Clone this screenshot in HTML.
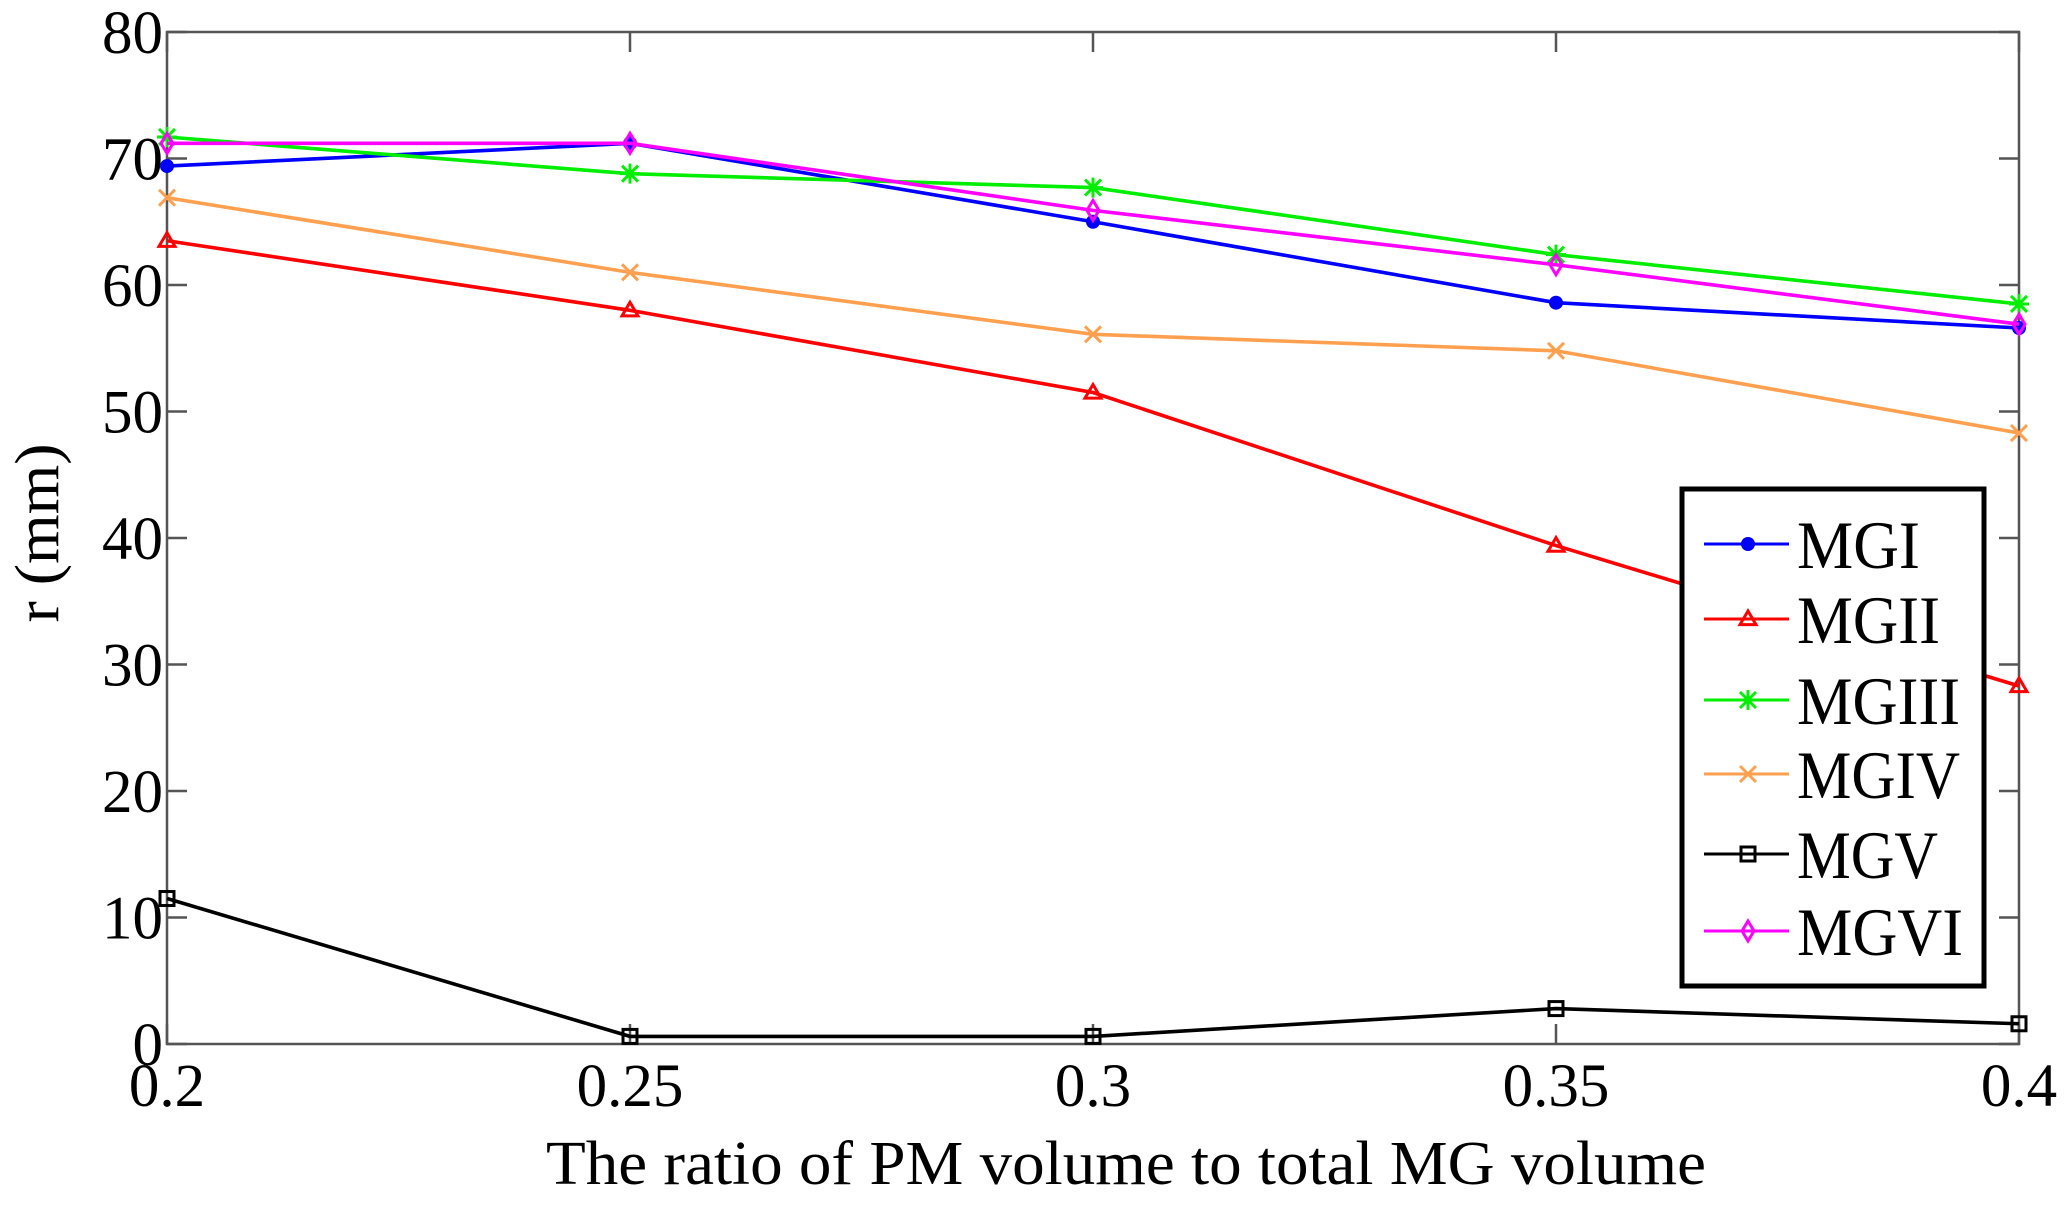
<!DOCTYPE html>
<html><head><meta charset="utf-8"><style>
html,body{margin:0;padding:0;background:#fff;}
svg{display:block;font-family:"Liberation Serif",serif;}
</style></head><body>
<svg id="chart" width="2069" height="1218" viewBox="0 0 2069 1218" xmlns="http://www.w3.org/2000/svg">
<g id="axes"></g>
<g id="series"></g>
<g id="legend"></g>
<text x="546" y="1184" font-size="62" textLength="1160" lengthAdjust="spacingAndGlyphs" fill="#000">The ratio of PM volume to total MG volume</text>
<text transform="translate(58,533) rotate(-90)" font-size="62" text-anchor="middle" textLength="179" lengthAdjust="spacingAndGlyphs" fill="#000">r (mm)</text>
</svg>
<script>
const xCategories = [0.2, 0.25, 0.3, 0.35, 0.4];
const xTickLabels = ["0.2", "0.25", "0.3", "0.35", "0.4"];
const yTicks = [0, 10, 20, 30, 40, 50, 60, 70, 80];
const seriesNames = ["MGI", "MGII", "MGIII", "MGIV", "MGV", "MGVI"];
const mgI = [69.4, 71.2, 65.0, 58.6, 56.6];
const mgII = [63.5, 58.0, 51.5, 39.4, 28.3];
const mgIII = [71.7, 68.8, 67.7, 62.4, 58.5];
const mgIV = [66.9, 61.0, 56.1, 54.8, 48.3];
const mgV = [11.5, 0.6, 0.6, 2.8, 1.6];
const mgVI = [71.2, 71.2, 65.9, 61.6, 56.9];

const NS = "http://www.w3.org/2000/svg";
const L = 167, R = 2019, T = 32, B = 1044;
const xMin = 0.2, xMax = 0.4, yMin = 0, yMax = 80;
function xs(v){ return L + (v - xMin) / (xMax - xMin) * (R - L); }
function ys(v){ return B - (v - yMin) / (yMax - yMin) * (B - T); }
function mk(tag, attrs, parent){ const e = document.createElementNS(NS, tag); for (const k in attrs) e.setAttribute(k, attrs[k]); parent.appendChild(e); return e; }

const axes = document.getElementById('axes');
const box = mk('rect', {x:L, y:T, width:R-L, height:B-T, fill:'none', stroke:'#555', 'stroke-width':2.5}, axes);


yTicks.forEach(v => {
  const y = ys(v);
  const t1 = mk('line', {x1:L, x2:L+20, y1:y, y2:y, stroke:'#555', 'stroke-width':2.5}, axes);
  
  
  const t2 = mk('line', {x1:R-20, x2:R, y1:y, y2:y, stroke:'#555', 'stroke-width':2.5}, axes);
  
  
  const lb = mk('text', {x:L-4, y:y+21, 'font-size':61, 'text-anchor':'end', fill:'#000'}, axes);
  lb.textContent = String(v);
  
  
});
xCategories.forEach((v, i) => {
  const x = xs(v);
  const t1 = mk('line', {x1:x, x2:x, y1:B, y2:B-20, stroke:'#555', 'stroke-width':2.5}, axes);
  
  
  const t2 = mk('line', {x1:x, x2:x, y1:T, y2:T+20, stroke:'#555', 'stroke-width':2.5}, axes);
  
  
  const lb = mk('text', {x:x, y:1106, 'font-size':61, 'text-anchor':'middle', fill:'#000'}, axes);
  lb.textContent = xTickLabels[i];
  
  
});

const colors = ["#0000ff", "#ff0000", "#00ee00", "#ffa050", "#000000", "#ff00ff"];
const markers = ["dot", "tri", "star", "x", "sq", "dia"];
const data = [mgI, mgII, mgIII, mgIV, mgV, mgVI];

function marker(type, x, y, c, g){
  const s = 8;
  let e;
  if (type === 'dot') e = mk('circle', {cx:x, cy:y, r:7, fill:c}, g);
  else if (type === 'tri') e = mk('polygon', {points:`${x},${y-s} ${x-s},${y+s*0.7} ${x+s},${y+s*0.7}`, fill:'none', stroke:c, 'stroke-width':3}, g);
  else if (type === 'sq') e = mk('rect', {x:x-7, y:y-7, width:14, height:14, fill:'none', stroke:c, 'stroke-width':3}, g);
  else if (type === 'dia') e = mk('polygon', {points:`${x},${y-10} ${x-6},${y} ${x},${y+10} ${x+6},${y}`, fill:'none', stroke:c, 'stroke-width':3}, g);
  else if (type === 'x') e = mk('path', {d:`M${x-s},${y-s}L${x+s},${y+s}M${x-s},${y+s}L${x+s},${y-s}`, stroke:c, 'stroke-width':3}, g);
  else e = mk('path', {d:`M${x-s},${y-s}L${x+s},${y+s}M${x-s},${y+s}L${x+s},${y-s}M${x},${y-10}L${x},${y+10}M${x-10},${y}L${x+10},${y}`, stroke:c, 'stroke-width':3}, g);
  
  
}

const sg = document.getElementById('series');
data.forEach((arr, si) => {
  const g = mk('g', {}, sg);
  
  
  const pts = arr.map((v, i) => xs(xCategories[i]) + ',' + ys(v)).join(' ');
  const pl = mk('polyline', {points:pts, fill:'none', stroke:colors[si], 'stroke-width':3.6}, g);
  
  
  arr.forEach((v, i) => marker(markers[si], xs(xCategories[i]), ys(v), colors[si], g));
});

const lg = document.getElementById('legend');
const lbox = mk('rect', {x:1682, y:489, width:302, height:497, fill:'#fff', stroke:'#000', 'stroke-width':5}, lg);


const rowsY = [544, 619, 700, 774, 854, 931];
const labelWidths = [123, 143, 163, 163, 141, 166];
seriesNames.forEach((n, i) => {
  const g = mk('g', {}, lg);
  
  
  const y = rowsY[i];
  const ln = mk('line', {x1:1704, x2:1789, y1:y, y2:y, stroke:colors[i], 'stroke-width':3}, g);
  
  
  marker(markers[i], 1748, y, colors[i], g);
  const t = mk('text', {x:1797, y:y+24, 'font-size':68, textLength:labelWidths[i], lengthAdjust:'spacingAndGlyphs', fill:'#000'}, g);
  t.textContent = n;
  
  
});
</script>
</body></html>
